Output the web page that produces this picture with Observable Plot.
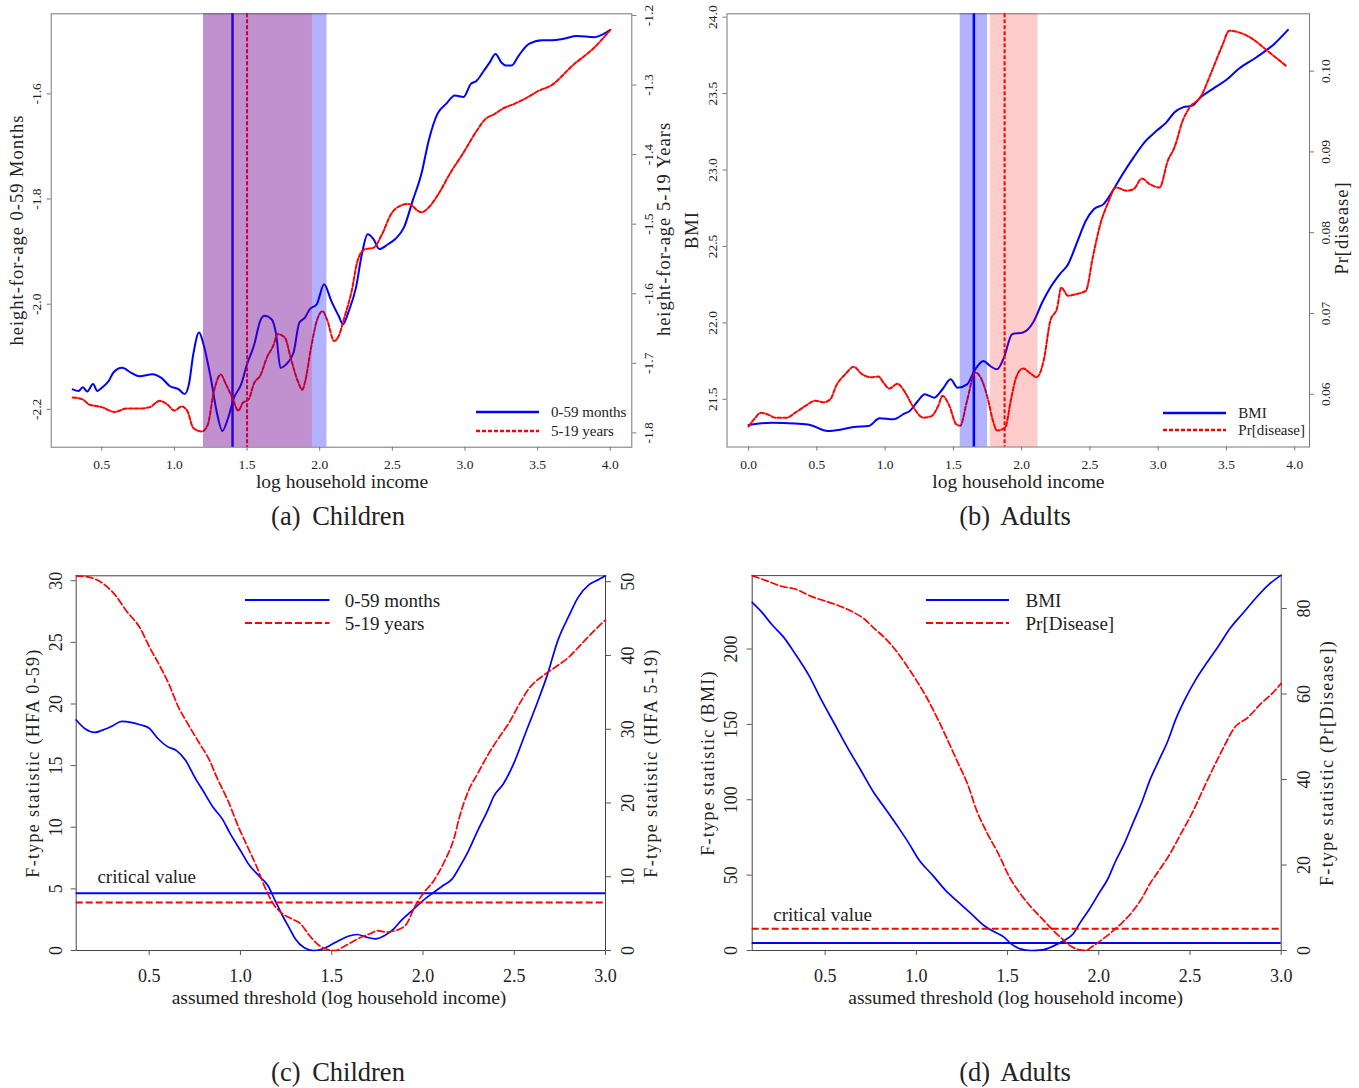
<!DOCTYPE html>
<html><head><meta charset="utf-8">
<script src="https://cdn.jsdelivr.net/npm/d3@7"></script>
<script src="https://cdn.jsdelivr.net/npm/@observablehq/plot@0.6"></script>
<style>
body{margin:0;background:#fff;}
#root{position:relative;width:1359px;height:1088px;overflow:hidden;font-family:"Liberation Serif",serif;color:#222;}
.t{position:absolute;white-space:nowrap;line-height:1;}
</style></head><body><div id="root"></div>
<script>
// ---------- DATA ----------
// (a) Children: height-for-age vs log household income
const childBlue = [[0.30,-2.162],[0.34,-2.165],[0.37,-2.158],[0.40,-2.166],[0.44,-2.152],[0.47,-2.165],[0.50,-2.159],[0.55,-2.145],[0.58,-2.130],[0.64,-2.121],[0.70,-2.130],[0.76,-2.137],[0.85,-2.133],[0.91,-2.140],[0.97,-2.156],[1.03,-2.162],[1.07,-2.171],[1.10,-2.152],[1.13,-2.095],[1.17,-2.054],[1.20,-2.076],[1.25,-2.140],[1.29,-2.203],[1.33,-2.241],[1.37,-2.216],[1.41,-2.178],[1.46,-2.152],[1.50,-2.114],[1.55,-2.076],[1.59,-2.032],[1.62,-2.022],[1.67,-2.029],[1.70,-2.057],[1.73,-2.121],[1.77,-2.114],[1.82,-2.092],[1.86,-2.035],[1.90,-2.025],[1.93,-2.010],[1.98,-2.000],[2.03,-1.962],[2.08,-1.994],[2.13,-2.022],[2.16,-2.038],[2.20,-2.013],[2.25,-1.968],[2.29,-1.905],[2.33,-1.867],[2.37,-1.876],[2.41,-1.895],[2.47,-1.886],[2.52,-1.876],[2.58,-1.854],[2.64,-1.803],[2.70,-1.752],[2.75,-1.689],[2.81,-1.638],[2.87,-1.619],[2.93,-1.603],[2.99,-1.606],[3.04,-1.581],[3.08,-1.575],[3.13,-1.556],[3.17,-1.540],[3.21,-1.524],[3.25,-1.540],[3.28,-1.546],[3.32,-1.546],[3.37,-1.527],[3.44,-1.505],[3.53,-1.498],[3.60,-1.498],[3.68,-1.495],[3.77,-1.490],[3.89,-1.492],[4.00,-1.478]];
const childRed = [[0.30,-1.749],[0.37,-1.752],[0.41,-1.759],[0.50,-1.763],[0.59,-1.770],[0.67,-1.765],[0.76,-1.765],[0.83,-1.763],[0.90,-1.754],[0.95,-1.759],[1.00,-1.768],[1.05,-1.762],[1.09,-1.769],[1.13,-1.793],[1.19,-1.798],[1.23,-1.788],[1.27,-1.742],[1.32,-1.716],[1.35,-1.728],[1.40,-1.750],[1.44,-1.768],[1.47,-1.757],[1.51,-1.752],[1.55,-1.728],[1.59,-1.718],[1.64,-1.690],[1.68,-1.675],[1.71,-1.658],[1.76,-1.663],[1.80,-1.692],[1.85,-1.726],[1.88,-1.738],[1.90,-1.726],[1.94,-1.678],[1.98,-1.639],[2.02,-1.625],[2.05,-1.637],[2.10,-1.668],[2.13,-1.661],[2.17,-1.634],[2.22,-1.596],[2.26,-1.553],[2.31,-1.536],[2.37,-1.534],[2.43,-1.514],[2.49,-1.486],[2.55,-1.474],[2.61,-1.471],[2.70,-1.483],[2.75,-1.476],[2.81,-1.459],[2.90,-1.426],[2.99,-1.397],[3.08,-1.366],[3.14,-1.349],[3.20,-1.342],[3.26,-1.334],[3.34,-1.327],[3.41,-1.320],[3.51,-1.308],[3.59,-1.301],[3.74,-1.272],[3.89,-1.246],[4.00,-1.221]];
const childBlueBand = [1.20, 2.05];
const childRedBand = [1.20, 1.95];
const childBlueCut = 1.40;
const childRedCut = 1.50;

// (b) Adults: BMI and Pr[disease]
const adultBlue = [[0.00,21.332],[0.17,21.347],[0.34,21.341],[0.45,21.332],[0.58,21.293],[0.68,21.303],[0.77,21.319],[0.88,21.325],[0.96,21.376],[1.06,21.369],[1.14,21.406],[1.18,21.424],[1.24,21.489],[1.29,21.533],[1.36,21.511],[1.42,21.566],[1.48,21.631],[1.53,21.576],[1.60,21.598],[1.66,21.696],[1.72,21.751],[1.77,21.718],[1.82,21.696],[1.87,21.773],[1.93,21.926],[2.01,21.937],[2.09,22.013],[2.15,22.133],[2.21,22.231],[2.28,22.319],[2.34,22.384],[2.41,22.537],[2.47,22.668],[2.53,22.745],[2.60,22.777],[2.66,22.854],[2.74,22.974],[2.82,23.083],[2.91,23.192],[2.99,23.258],[3.06,23.312],[3.12,23.378],[3.18,23.410],[3.25,23.421],[3.31,23.476],[3.40,23.531],[3.50,23.590],[3.59,23.662],[3.72,23.738],[3.85,23.825],[3.95,23.917]];
const adultRed = [[0.00,0.0560],[0.04,0.0569],[0.09,0.0577],[0.14,0.0575],[0.20,0.0571],[0.28,0.0571],[0.34,0.0577],[0.42,0.0586],[0.49,0.0592],[0.55,0.0590],[0.60,0.0594],[0.64,0.0610],[0.71,0.0625],[0.77,0.0634],[0.83,0.0625],[0.90,0.0621],[0.95,0.0622],[0.99,0.0614],[1.03,0.0607],[1.09,0.0613],[1.14,0.0604],[1.20,0.0586],[1.28,0.0571],[1.34,0.0573],[1.39,0.0586],[1.42,0.0598],[1.47,0.0586],[1.52,0.0563],[1.55,0.0561],[1.60,0.0592],[1.66,0.0627],[1.71,0.0617],[1.75,0.0596],[1.79,0.0567],[1.82,0.0555],[1.88,0.0559],[1.92,0.0592],[1.96,0.0621],[2.01,0.0632],[2.07,0.0625],[2.11,0.0621],[2.16,0.0641],[2.21,0.0691],[2.26,0.0707],[2.29,0.0732],[2.34,0.0722],[2.40,0.0724],[2.47,0.0728],[2.52,0.0769],[2.58,0.0813],[2.63,0.0836],[2.69,0.0856],[2.77,0.0852],[2.82,0.0854],[2.88,0.0867],[2.94,0.0860],[3.01,0.0856],[3.07,0.0889],[3.12,0.0906],[3.18,0.0939],[3.23,0.0955],[3.31,0.0968],[3.39,0.0999],[3.47,0.1032],[3.52,0.1050],[3.59,0.1048],[3.69,0.1040],[3.78,0.1028],[3.86,0.1017],[3.94,0.1006]];
const adultBlueBand = [1.55, 1.75];
const adultRedBand = [1.77, 2.12];
const adultBlueCut = 1.65;
const adultRedCut = 1.875;

// (c) Children: F-type statistics vs assumed threshold
const fChildBlue = [[0.10,18.70],[0.15,17.97],[0.20,17.70],[0.26,17.97],[0.30,18.24],[0.35,18.59],[0.40,18.51],[0.45,18.32],[0.50,18.03],[0.55,17.16],[0.60,16.54],[0.65,16.22],[0.70,15.41],[0.75,14.05],[0.80,12.84],[0.85,11.62],[0.90,10.68],[0.94,9.59],[1.00,8.11],[1.05,6.89],[1.10,6.08],[1.15,5.27],[1.19,4.05],[1.23,2.84],[1.27,1.76],[1.30,0.95],[1.35,0.22],[1.40,0.00],[1.44,0.08],[1.49,0.41],[1.54,0.81],[1.59,1.16],[1.64,1.30],[1.69,1.08],[1.74,0.95],[1.79,1.22],[1.84,1.76],[1.88,2.43],[1.94,3.24],[2.00,4.05],[2.06,4.73],[2.11,5.27],[2.16,5.81],[2.20,6.76],[2.25,8.11],[2.30,9.73],[2.35,11.22],[2.39,12.57],[2.44,13.51],[2.50,15.27],[2.56,17.57],[2.62,19.86],[2.68,22.30],[2.74,25.20],[2.80,27.16],[2.85,28.65],[2.91,29.68],[2.96,30.08],[3.00,30.40]];
const fChildRed = [[0.10,50.8],[0.15,50.7],[0.20,50.4],[0.26,49.5],[0.32,48.0],[0.37,46.2],[0.45,43.7],[0.50,41.2],[0.56,38.5],[0.61,36.0],[0.66,33.0],[0.71,30.8],[0.77,28.3],[0.83,25.8],[0.87,23.5],[0.93,20.4],[0.99,16.7],[1.04,14.0],[1.09,11.3],[1.13,8.8],[1.18,6.3],[1.23,5.0],[1.28,4.3],[1.33,3.6],[1.37,2.3],[1.42,0.9],[1.47,0.2],[1.52,0.0],[1.56,0.45],[1.61,1.13],[1.66,1.8],[1.71,2.26],[1.75,2.7],[1.80,2.5],[1.85,2.7],[1.91,3.6],[1.95,5.7],[2.00,7.7],[2.06,9.5],[2.12,12.2],[2.17,15.2],[2.20,18.1],[2.25,21.7],[2.30,24.0],[2.36,26.7],[2.42,29.0],[2.47,30.8],[2.53,33.5],[2.58,35.5],[2.66,37.3],[2.73,38.5],[2.80,39.8],[2.87,41.6],[2.94,43.4],[3.00,44.8]];
const fChildCritBlue = 4.65;
const fChildCritRed = 6.5;

// (d) Adults: F-type statistics vs assumed threshold
const fAdultBlue = [[0.10,231.0],[0.15,224.8],[0.21,215.9],[0.27,208.2],[0.34,196.0],[0.41,182.7],[0.48,166.1],[0.55,150.6],[0.62,135.1],[0.69,120.7],[0.77,104.1],[0.83,94.1],[0.90,81.9],[0.96,70.9],[1.01,60.9],[1.09,49.8],[1.16,39.9],[1.23,32.1],[1.30,24.4],[1.37,16.6],[1.43,12.2],[1.48,8.9],[1.52,4.4],[1.57,1.1],[1.63,0.0],[1.69,0.4],[1.75,2.9],[1.81,6.6],[1.86,11.1],[1.90,18.8],[1.95,27.7],[2.00,37.7],[2.05,47.6],[2.09,58.7],[2.14,70.9],[2.19,85.3],[2.24,99.7],[2.28,113.0],[2.33,126.2],[2.38,139.5],[2.42,152.8],[2.47,166.1],[2.53,179.4],[2.59,190.5],[2.66,202.7],[2.72,213.7],[2.79,223.7],[2.86,233.7],[2.93,242.5],[3.00,249.0]];
const fAdultRed = [[0.10,87.7],[0.19,86.3],[0.26,85.2],[0.34,84.5],[0.42,82.9],[0.51,81.6],[0.59,80.4],[0.66,79.0],[0.71,77.7],[0.77,75.3],[0.83,73.0],[0.88,70.6],[0.94,67.1],[1.00,63.2],[1.06,58.9],[1.12,53.9],[1.18,48.4],[1.23,43.7],[1.28,39.0],[1.33,32.8],[1.39,27.3],[1.45,22.6],[1.51,17.2],[1.57,13.3],[1.63,10.1],[1.69,7.4],[1.75,4.7],[1.80,2.7],[1.84,1.2],[1.89,0.2],[1.93,0.0],[1.96,0.8],[2.01,2.3],[2.07,4.3],[2.13,6.6],[2.19,9.4],[2.24,12.5],[2.28,15.6],[2.33,18.7],[2.39,22.6],[2.45,27.3],[2.51,32.0],[2.57,37.5],[2.63,42.9],[2.69,48.0],[2.74,51.9],[2.82,54.6],[2.89,57.8],[2.95,60.1],[3.00,62.5]];
const fAdultCritBlue = 4.9;
const fAdultCritRed = 5.07;

// tick labels
const ticksA_x = [0.5,1.0,1.5,2.0,2.5,3.0,3.5,4.0];
const ticksA_yl = [-2.2,-2.0,-1.8,-1.6];
const ticksA_yr = [-1.8,-1.7,-1.6,-1.5,-1.4,-1.3,-1.2];
const ticksB_x = [0.0,0.5,1.0,1.5,2.0,2.5,3.0,3.5,4.0];
const ticksB_yl = [21.5,22.0,22.5,23.0,23.5,24.0];
const ticksB_yr = [0.06,0.07,0.08,0.09,0.10];
const ticksCD_x = [0.5,1.0,1.5,2.0,2.5,3.0];
const ticksC_yl = [0,5,10,15,20,25,30];
const ticksC_yr = [0,10,20,30,40,50];
const ticksD_yl = [0,50,100,150,200];
const ticksD_yr = [0,20,40,60,80];

// ---------- DRAWING ----------
const root = document.getElementById("root");
const FONT = "Liberation Serif, serif";
const BLUE = "#0000ff", RED = "#ff0000";

function place(svg, left, top) {
  svg.style.position = "absolute";
  svg.style.left = left + "px";
  svg.style.top = top + "px";
  svg.style.maxWidth = "none";
  root.appendChild(svg);
}
function layer(box, xDomain, yDomain, marks) {
  const opts = {
    width: box.w, height: box.h,
    marginLeft: box.ml, marginRight: box.mr, marginTop: box.mt, marginBottom: box.mb,
    x: {domain: xDomain, axis: null},
    style: {background: "transparent", fontFamily: FONT, color: "#222", overflow: "visible"},
    marks
  };
  if (yDomain) opts.y = {domain: yDomain, axis: null};
  place(Plot.plot(opts), box.left, box.top);
}
function txt(str, x, y, size, o = {}) {
  const d = document.createElement("div");
  d.className = "t";
  d.textContent = str;
  d.style.left = x + "px";
  d.style.top = y + "px";
  d.style.fontSize = size + "px";
  if (o.spacing) d.style.letterSpacing = o.spacing + "px";
  if (o.word) d.style.wordSpacing = o.word + "px";
  let tr = o.left ? "translate(0,-50%)" : "translate(-50%,-50%)";
  if (o.rotate) tr += " rotate(-90deg)";
  d.style.transform = tr;
  root.appendChild(d);
}
function legendLine(x1, x2, y, color, width, dash) {
  const s = d3.create("svg").attr("width", x2 - x1).attr("height", 10)
    .style("position", "absolute").style("left", x1 + "px").style("top", (y - 5) + "px");
  s.append("line").attr("x1", 0).attr("x2", x2 - x1).attr("y1", 5).attr("y2", 5)
    .attr("stroke", color).attr("stroke-width", width).attr("stroke-dasharray", dash || null);
  root.appendChild(s.node());
}
const f1 = d => d.toFixed(1), f2 = d => d.toFixed(2), f0 = d => String(d);
const XY = {x: d => d[0], y: d => d[1]};

function axesCommon(size, fs, stroke) {
  return {tickSize: size, fontSize: fs, stroke, fill: "#222", label: null};
}

// ----- Panel (a) -----
{
  const box = {left: 0, top: 0, w: 680, h: 500, ml: 50.7, mr: 48.7, mt: 13.3, mb: 53.3};
  const xd = [0.152, 4.148];
  const c = axesCommon(4, 13.5, "#777");
  layer(box, xd, [-2.272, -1.4476], [
    Plot.frame({stroke: "#777"}),
    Plot.axisX({...c, ticks: ticksA_x, tickFormat: f1, tickPadding: 8.5}),
    Plot.axisY({...c, anchor: "left", ticks: ticksA_yl, tickFormat: f1, tickRotate: -90, tickPadding: 6}),
    Plot.ruleX([childBlueCut], {stroke: BLUE, strokeWidth: 2.5}),
    Plot.line(childBlue, {...XY, stroke: BLUE, strokeWidth: 2, curve: "monotone-x"})
  ]);
  layer(box, xd, [-1.8206, -1.1976], [
    Plot.axisY({...c, anchor: "right", ticks: ticksA_yr, tickFormat: f1, tickRotate: -90, lineAnchor: "top", tickPadding: 8}),
    Plot.ruleX([childRedCut], {stroke: RED, strokeWidth: 2, strokeDasharray: "4,2"}),
    Plot.line(childRed, {...XY, stroke: RED, strokeWidth: 2, strokeDasharray: "4,2", curve: "monotone-x"})
  ]);
  layer(box, xd, null, [
    Plot.rect([childBlueBand], {x1: d => d[0], x2: d => d[1], fill: BLUE, fillOpacity: 0.3}),
    Plot.rect([childRedBand], {x1: d => d[0], x2: d => d[1], fill: RED, fillOpacity: 0.19})
  ]);
  txt("height-for-age 0-59 Months", 17.3, 229.5, 18.5, {rotate: true, spacing: 1});
  txt("height-for-age 5-19 Years", 664, 229, 18.5, {rotate: true, spacing: 1});
  txt("log household income", 342, 482, 19.5);
  txt("(a) Children", 338, 516, 26.5, {word: 5});
  legendLine(476, 539, 412.3, BLUE, 2.5);
  legendLine(476, 539, 430.7, RED, 2.5, "4,2");
  txt("0-59 months", 551, 412.3, 15, {left: true});
  txt("5-19 years", 551, 430.7, 15, {left: true});
}

// ----- Panel (b) -----
{
  const box = {left: 680, top: 0, w: 679, h: 500, ml: 46.5, mr: 50, mt: 13.3, mb: 53.5};
  const xd = [-0.158, 4.108];
  const c = axesCommon(4, 13.5, "#777");
  layer(box, xd, [21.188, 24.022], [
    Plot.frame({stroke: "#777"}),
    Plot.axisX({...c, ticks: ticksB_x, tickFormat: f1, tickPadding: 8.5}),
    Plot.axisY({...c, anchor: "left", ticks: ticksB_yl, tickFormat: f1, tickRotate: -90, tickPadding: 6}),
    Plot.ruleX([adultBlueCut], {stroke: BLUE, strokeWidth: 2.5}),
    Plot.line(adultBlue, {...XY, stroke: BLUE, strokeWidth: 2, curve: "monotone-x"})
  ]);
  layer(box, xd, [0.05347, 0.1071], [
    Plot.axisY({...c, anchor: "right", ticks: ticksB_yr, tickFormat: f2, tickRotate: -90, lineAnchor: "top", tickPadding: 7.2}),
    Plot.ruleX([adultRedCut], {stroke: RED, strokeWidth: 2, strokeDasharray: "4,2"}),
    Plot.line(adultRed, {...XY, stroke: RED, strokeWidth: 2, strokeDasharray: "4,2", curve: "monotone-x"})
  ]);
  layer(box, xd, null, [
    Plot.rect([adultBlueBand], {x1: d => d[0], x2: d => d[1], fill: BLUE, fillOpacity: 0.3}),
    Plot.rect([adultRedBand], {x1: d => d[0], x2: d => d[1], fill: RED, fillOpacity: 0.2})
  ]);
  txt("BMI", 692, 230, 18.5, {rotate: true, spacing: 1});
  txt("Pr[disease]", 1341.5, 228, 18.5, {rotate: true, spacing: 1});
  txt("log household income", 1018.4, 482, 19.5);
  txt("(b) Adults", 1015, 516, 26.5, {word: 5});
  legendLine(1162.8, 1226.5, 412.7, BLUE, 2.5);
  legendLine(1162.8, 1226.5, 430.4, RED, 2.5, "4,2");
  txt("BMI", 1238.3, 412.7, 15, {left: true});
  txt("Pr[disease]", 1238.3, 430.4, 15, {left: true});
}

// ----- Panel (c) -----
{
  const box = {left: 0, top: 540, w: 680, h: 500, ml: 75.7, mr: 75, mt: 35.3, mb: 90};
  const xd = [0.1, 3.0];
  const c = axesCommon(5, 18, "#555");
  layer(box, xd, [0, 30.4], [
    Plot.frame({stroke: "#444"}),
    Plot.axisX({...c, ticks: ticksCD_x, tickFormat: f1, tickPadding: 13.6}),
    Plot.axisY({...c, anchor: "left", ticks: ticksC_yl, tickFormat: f0, tickRotate: -90, tickPadding: 9.5}),
    Plot.ruleY([fChildCritBlue], {stroke: BLUE, strokeWidth: 2}),
    Plot.line(fChildBlue, {...XY, stroke: BLUE, strokeWidth: 1.7, curve: "monotone-x"})
  ]);
  layer(box, xd, [0, 50.8], [
    Plot.axisY({...c, anchor: "right", ticks: ticksC_yr, tickFormat: f0, tickRotate: -90, lineAnchor: "top", tickPadding: 11}),
    Plot.ruleY([fChildCritRed], {stroke: RED, strokeWidth: 2, strokeDasharray: "7,3"}),
    Plot.line(fChildRed, {...XY, stroke: RED, strokeWidth: 1.7, strokeDasharray: "7,3", curve: "monotone-x"})
  ]);
  txt("F-type statistic (HFA 0-59)", 33.2, 763, 18, {rotate: true, spacing: 1.3});
  txt("F-type statistic (HFA 5-19)", 650.5, 763, 18, {rotate: true, spacing: 1.3});
  txt("assumed threshold (log household income)", 339, 998, 19.5);
  txt("critical value", 97.4, 876, 19, {left: true});
  txt("(c) Children", 338, 1072, 26.5, {word: 5});
  legendLine(245, 329.5, 599.7, BLUE, 2);
  legendLine(245, 329.5, 623, RED, 2, "7,3");
  txt("0-59 months", 344.7, 599.7, 19, {left: true});
  txt("5-19 years", 344.7, 623, 19, {left: true});
}

// ----- Panel (d) -----
{
  const box = {left: 680, top: 540, w: 679, h: 500, ml: 71.7, mr: 78.3, mt: 35.1, mb: 90};
  const xd = [0.1, 3.0];
  const c = axesCommon(5, 18, "#555");
  layer(box, xd, [0, 248.7], [
    Plot.frame({stroke: "#444"}),
    Plot.axisX({...c, ticks: ticksCD_x, tickFormat: f1, tickPadding: 13.6}),
    Plot.axisY({...c, anchor: "left", ticks: ticksD_yl, tickFormat: f0, tickRotate: -90, tickPadding: 10}),
    Plot.ruleY([fAdultCritBlue], {stroke: BLUE, strokeWidth: 2}),
    Plot.line(fAdultBlue, {...XY, stroke: BLUE, strokeWidth: 1.7, curve: "monotone-x"})
  ]);
  layer(box, xd, [0, 87.7], [
    Plot.axisY({...c, anchor: "right", ticks: ticksD_yr, tickFormat: f0, tickRotate: -90, lineAnchor: "top", tickPadding: 11.5}),
    Plot.ruleY([fAdultCritRed], {stroke: RED, strokeWidth: 2, strokeDasharray: "7,3"}),
    Plot.line(fAdultRed, {...XY, stroke: RED, strokeWidth: 1.7, strokeDasharray: "7,3", curve: "monotone-x"})
  ]);
  txt("F-type statistic (BMI)", 708.4, 763, 18, {rotate: true, spacing: 1.3});
  txt("F-type statistic (Pr[Disease])", 1327, 763, 18, {rotate: true, spacing: 1.3});
  txt("assumed threshold (log household income)", 1015.6, 998, 19.5);
  txt("critical value", 773.3, 914, 19, {left: true});
  txt("(d) Adults", 1015, 1072, 26.5, {word: 5});
  legendLine(926, 1009, 600, BLUE, 2);
  legendLine(926, 1009, 623, RED, 2, "7,3");
  txt("BMI", 1025.5, 600, 19, {left: true});
  txt("Pr[Disease]", 1025.5, 623, 19, {left: true});
}
</script></body></html>
